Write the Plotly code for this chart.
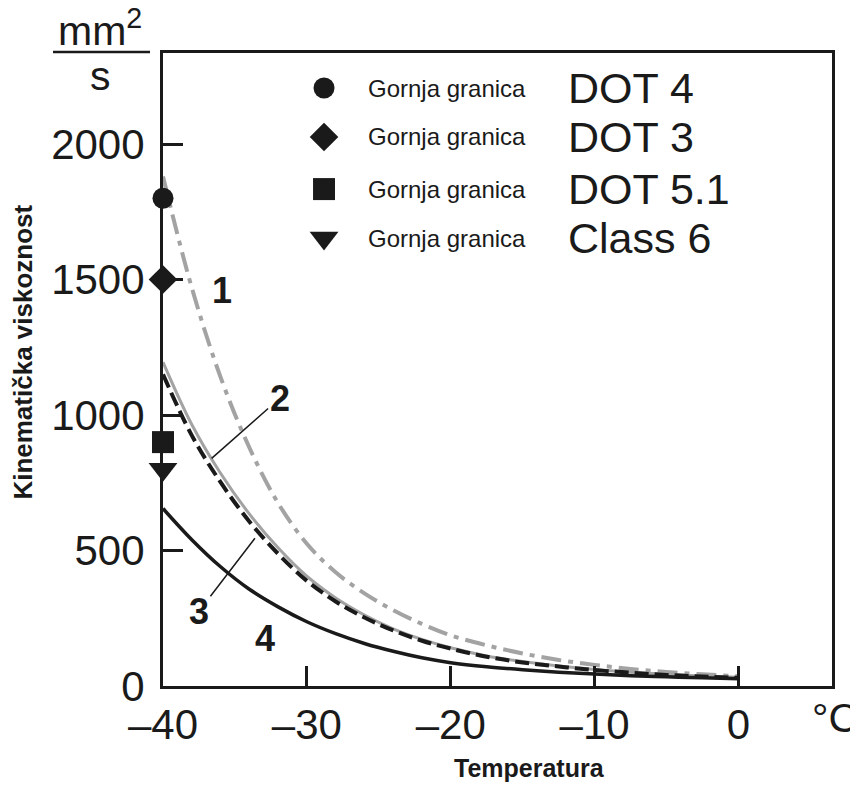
import plotly.graph_objects as go

# ---------------- data ----------------
temperature = [-40, -38, -36, -34, -32, -30, -28, -26, -24, -22, -20,
               -17.5, -15, -12.5, -10, -7.5, -5, -2.5, 0]
curve1 = [1880, 1470, 1140, 880, 675, 525, 420, 342, 280, 229, 187,
          150, 120, 96, 78, 63, 52, 43, 36]
curve2 = [1195, 965, 785, 635, 510, 405, 325, 262, 211, 172, 141,
          111, 90, 74, 61, 51, 43, 37, 32]
curve3 = [1150, 925, 752, 607, 488, 388, 312, 253, 205, 167, 138,
          108, 87, 72, 59, 49, 41, 35, 30]
curve4 = [655, 540, 440, 357, 292, 237, 193, 157, 128, 104, 86,
          71, 60, 51, 44, 38, 34, 30, 27]

limit_names = ["DOT 4", "DOT 3", "DOT 5.1", "Class 6"]
limit_values = [1800, 1500, 900, 800]
limit_symbols = ["circle", "diamond", "square", "triangle-down"]
limit_sizes = [21, 22, 22, 25]
limit_temp = -40
legend_label = "Gornja granica"

x_ticks = [-40, -30, -20, -10, 0]
x_ticktext = ["\u201340", "\u201330", "\u201320", "\u201310", "0"]
y_ticks = [0, 500, 1000, 1500, 2000]

# ---------------- styling ----------------
BLACK = "#1a1a1a"
GREY = "#a3a3a3"
FONT = "Liberation Sans"

fig = go.Figure()

fig.add_trace(go.Scatter(x=temperature, y=curve1, mode="lines",
                         line=dict(color=GREY, width=4, shape="spline",
                                   dash="20px,7px,5px,7px"),
                         showlegend=False, hoverinfo="skip"))
fig.add_trace(go.Scatter(x=temperature, y=curve2, mode="lines",
                         line=dict(color=GREY, width=3, shape="spline"),
                         showlegend=False, hoverinfo="skip"))
fig.add_trace(go.Scatter(x=temperature, y=curve3, mode="lines",
                         line=dict(color=BLACK, width=4, shape="spline",
                                   dash="14px,6px"),
                         showlegend=False, hoverinfo="skip"))
fig.add_trace(go.Scatter(x=temperature, y=curve4, mode="lines",
                         line=dict(color=BLACK, width=3.5, shape="spline"),
                         showlegend=False, hoverinfo="skip"))

# upper limit markers at -40 °C
fig.add_trace(go.Scatter(x=[limit_temp] * len(limit_values), y=limit_values,
                         mode="markers", cliponaxis=False,
                         marker=dict(symbol=limit_symbols, size=limit_sizes,
                                     color=BLACK, opacity=1,
                                     line=dict(width=0)),
                         showlegend=False, hoverinfo="skip"))

# manual legend on an overlay axis (0..1 in the plot area)
leg_x = 0.2407
leg_rows = [0.9447, 0.8673, 0.7850, 0.7077]
fig.add_trace(go.Scatter(x=[leg_x] * 4, y=leg_rows, xaxis="x2", yaxis="y2",
                         mode="markers", cliponaxis=False,
                         marker=dict(symbol=limit_symbols, size=limit_sizes,
                                     color=BLACK, opacity=1,
                                     line=dict(width=0)),
                         showlegend=False, hoverinfo="skip"))

annotations = []
for yy, name in zip(leg_rows, limit_names):
    annotations.append(dict(xref="paper", yref="paper", x=0.303, y=yy,
                            text=legend_label, showarrow=False,
                            xanchor="left", yanchor="middle",
                            font=dict(size=24, color=BLACK, family=FONT)))
    annotations.append(dict(xref="paper", yref="paper", x=0.6018, y=yy,
                            text=name, showarrow=False,
                            xanchor="left", yanchor="middle",
                            font=dict(size=43, color=BLACK, family=FONT)))

# curve labels
lab_font = dict(size=36, color=BLACK, family=FONT, weight="bold")
annotations.append(dict(x=-35.92, y=1461, text="<b>1</b>", showarrow=False,
                        font=lab_font))
annotations.append(dict(x=-32.92, y=176, text="<b>4</b>", showarrow=False,
                        font=lab_font))
annotations.append(dict(x=-36.62, y=840, text="<b>2</b>", showarrow=True,
                        arrowhead=0, arrowwidth=1.5, arrowcolor=BLACK,
                        ax=68, ay=-60, font=lab_font))
annotations.append(dict(x=-33.61, y=545, text="<b>3</b>", showarrow=True,
                        arrowhead=0, arrowwidth=1.5, arrowcolor=BLACK,
                        ax=-56, ay=73, font=lab_font))

# unit label mm²/s
annotations.append(dict(xref="paper", yref="paper", x=-0.094, y=0.9953,
                        text="mm<sup>2</sup>", showarrow=False,
                        xanchor="center", yanchor="bottom",
                        font=dict(size=41, color=BLACK, family=FONT)))
annotations.append(dict(xref="paper", yref="paper", x=-0.094, y=1.003,
                        text="s", showarrow=False,
                        xanchor="center", yanchor="top",
                        font=dict(size=41, color=BLACK, family=FONT)))
# °C
annotations.append(dict(xref="paper", yref="paper", x=1.005, y=-0.051,
                        text="°C", showarrow=False,
                        xanchor="center", yanchor="middle",
                        font=dict(size=41, color=BLACK, family=FONT)))
# axis titles
annotations.append(dict(xref="paper", yref="paper", x=0.548, y=-0.13,
                        text="<b>Temperatura</b>", showarrow=False,
                        xanchor="center", yanchor="middle",
                        font=dict(size=25, color=BLACK, family=FONT)))
annotations.append(dict(xref="paper", yref="paper", x=-0.209, y=0.527,
                        text="<b>Kinematička viskoznost</b>", showarrow=False,
                        textangle=-90, xanchor="center", yanchor="middle",
                        font=dict(size=26, color=BLACK, family=FONT)))

fig.update_layout(
    width=850, height=777,
    margin=dict(l=155, r=26, t=45, b=99),
    paper_bgcolor="white", plot_bgcolor="white",
    font=dict(family=FONT, color=BLACK),
    showlegend=False,
    annotations=annotations,
    shapes=[dict(type="line", xref="paper", yref="paper",
                 x0=-0.1644, x1=-0.0194, y0=1.0016, y1=1.0016,
                 line=dict(color=BLACK, width=2.5))],
    xaxis=dict(range=[-40, 6.5], tickvals=x_ticks, ticktext=x_ticktext,
               ticks="inside", ticklen=20, tickwidth=2.5, tickcolor=BLACK,
               showline=True, linewidth=3, linecolor=BLACK, mirror=True,
               showgrid=False, zeroline=False,
               tickfont=dict(size=42, color=BLACK, family=FONT)),
    yaxis=dict(range=[0, 2336], tickvals=y_ticks,
               ticks="inside", ticklen=20, tickwidth=2.5, tickcolor=BLACK,
               showline=True, linewidth=3, linecolor=BLACK, mirror=True,
               showgrid=False, zeroline=False, ticklabelstandoff=7,
               tickfont=dict(size=42, color=BLACK, family=FONT)),
    xaxis2=dict(range=[0, 1], overlaying="x", visible=False, fixedrange=True),
    yaxis2=dict(range=[0, 1], overlaying="y", visible=False, fixedrange=True),
)

fig.write_html("out.html")
